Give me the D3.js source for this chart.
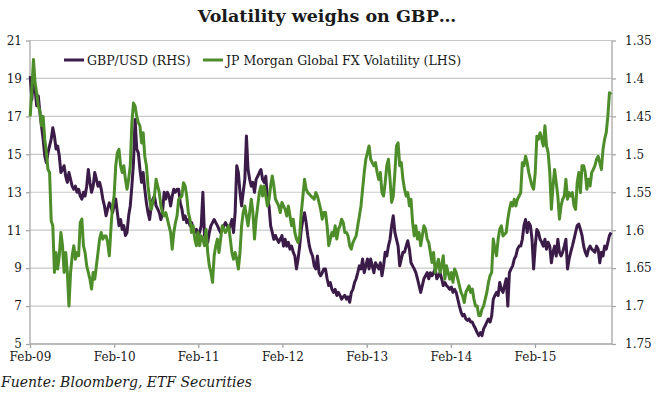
<!DOCTYPE html>
<html><head><meta charset="utf-8">
<script src="https://cdn.jsdelivr.net/npm/d3@7"></script>
<style>body{margin:0;background:#fff}svg{display:block}</style>
</head><body>
<svg id="c" width="659" height="399"></svg>
<script>
// JP Morgan Global FX Volatility (LHS), weekly readings from Feb-09
const volatility2009_10 = [
17.0,18.42,20.0,18.77,18.25,17.54,17.28,16.5,17.0,15.8,15.09,14.2,14.04,11.49,11.23,8.77,9.82,8.95,9.65,10.88,
10.18,8.77,9.82,8.77,7.0,8.77,9.65,10.18,9.47,9.82,9.65,11.4,11.58,10.18,9.82,9.12,8.77,8.42,7.9,8.77,
8.42,9.12,9.82,10.53,10.88,10.53,10.7,10.7,10.35,9.65,11.05,12.28,12.8,14.4,15.09,15.26,14.4,14.04,14.4,13.68,
13.16,13.68,14.4,16.67,17.7,17.54,17.0,16.67,16.5,15.6,16.14,14.9,14.4,13.33,12.63,12.1,12.46,12.8,13.68,13.33,
12.98,12.28,11.93,11.75,11.93,11.58,11.23,10.88,10.0,10.88,11.4,11.75
];
const volatility2011_12 = [
12.63,12.72,12.8,13.5,13.33,12.8,11.93,11.58,10.88,11.23,10.53,10.18,10.88,10.18,10.7,10.53,10.18,11.05,9.82,9.12,
8.77,8.25,9.65,10.18,10.53,9.82,10.53,11.23,11.05,10.88,11.05,11.23,10.53,9.82,9.47,9.82,9.47,8.95,9.82,11.23,
11.93,12.28,11.75,11.23,11.93,12.63,11.93,10.53,11.58,12.28,12.98,13.33,12.8,13.33,12.8,12.28,12.63,13.33,13.86,13.33,
12.63,12.46,12.28,11.93,12.46,12.28,12.1,11.75,12.28,11.75,11.23,11.58,10.88,10.53,10.35,10.7,11.93,12.8,13.68,13.16,
12.98,12.89,12.8,12.72,12.63,12.98,12.8,12.46,12.1,11.58,11.93
];
const volatility2013_14 = [
11.93,11.23,10.18,10.53,10.88,10.7,11.23,10.53,11.05,11.23,11.58,11.4,10.88,10.88,10.7,10.18,10.0,10.35,10.53,10.7,
11.23,11.75,12.28,13.16,14.04,14.74,15.09,15.44,14.74,14.56,14.4,14.56,14.04,13.68,14.04,12.98,12.8,13.5,14.4,14.74,
13.68,12.46,12.8,14.04,15.44,15.6,14.4,14.56,13.68,13.16,12.8,12.98,12.28,12.63,11.4,10.7,11.23,10.53,10.88,10.18,
10.7,11.23,11.05,10.53,10.35,9.82,9.3,9.82,8.77,9.12,9.47,8.77,9.12,9.65,8.42,9.12,8.77,8.42,8.77,8.25,
8.95,8.77,8.42,8.07,7.72,7.54,7.19,7.72,7.9,8.07,7.72
];
const volatility2014_15 = [
7.9,7.37,7.0,7.0,6.5,6.5,6.84,7.0,7.37,7.72,8.25,8.6,8.77,10.53,10.0,9.65,10.53,11.05,11.23,10.7,
10.79,10.88,11.58,12.1,12.46,12.28,12.63,12.28,12.63,12.8,12.98,14.56,14.4,14.9,14.56,14.04,13.68,13.33,13.16,14.04,
15.95,15.8,16.14,15.8,15.44,16.5,15.44,15.09,14.04,12.1,13.33,14.2,13.5,12.8,11.58,12.28,12.63,12.8,13.68,12.63,
12.98,12.8,12.98,12.28,12.1,13.5,14.04,12.98,14.4,14.4,14.04,13.16,13.68,13.33,14.04,14.2,14.4,14.74,14.9,14.56,
14.2,15.26,15.8,16.14,17.0,18.25,18.16
];
// GBP/USD (RHS, inverted axis), weekly
const gbpusd2009_10 = [
1.397,1.428,1.397,1.414,1.436,1.423,1.445,1.463,1.480,1.502,1.511,1.498,1.489,1.480,1.465,1.476,1.493,1.489,1.502,1.524,
1.520,1.515,1.529,1.537,1.524,1.533,1.542,1.546,1.542,1.550,1.546,1.555,1.559,1.550,1.555,1.542,1.520,1.537,1.550,1.542,
1.524,1.533,1.542,1.537,1.546,1.559,1.568,1.581,1.572,1.564,1.568,1.577,1.568,1.559,1.577,1.594,1.586,1.599,1.594,1.607,
1.603,1.581,1.568,1.542,1.511,1.454,1.493,1.498,1.520,1.537,1.524,1.546,1.564,1.577,1.586,1.568,1.559,1.555,1.568,1.572,
1.577,1.586,1.577,1.550,1.559,1.550,1.555,1.568,1.555,1.546,1.550,1.546
];
const gbpusd2011_12 = [
1.546,1.564,1.572,1.586,1.581,1.590,1.586,1.594,1.590,1.599,1.603,1.599,1.607,1.603,1.594,1.550,1.607,1.612,1.616,1.603,
1.594,1.590,1.586,1.590,1.594,1.599,1.603,1.599,1.594,1.590,1.594,1.599,1.594,1.586,1.603,1.577,1.515,1.524,1.550,1.568,
1.550,1.533,1.476,1.520,1.533,1.542,1.537,1.550,1.533,1.529,1.524,1.520,1.533,1.537,1.529,1.559,1.568,1.594,1.603,1.612,
1.607,1.612,1.616,1.612,1.607,1.621,1.612,1.621,1.616,1.625,1.621,1.629,1.634,1.651,1.638,1.621,1.599,1.586,1.577,1.590,
1.607,1.621,1.629,1.634,1.647,1.651,1.634,1.656,1.660,1.656,1.651
];
const gbpusd2013_14 = [
1.651,1.664,1.673,1.669,1.678,1.682,1.678,1.686,1.682,1.686,1.691,1.688,1.686,1.691,1.688,1.695,1.682,1.678,1.669,1.664,
1.656,1.647,1.651,1.638,1.656,1.647,1.638,1.651,1.638,1.647,1.656,1.643,1.647,1.651,1.643,1.660,1.647,1.629,1.634,1.621,
1.612,1.594,1.581,1.603,1.612,1.621,1.647,1.638,1.629,1.629,1.621,1.614,1.625,1.643,1.647,1.651,1.656,1.664,1.673,1.682,
1.673,1.664,1.660,1.656,1.664,1.656,1.660,1.656,1.651,1.664,1.660,1.656,1.664,1.673,1.669,1.673,1.675,1.678,1.675,1.682,
1.678,1.682,1.691,1.700,1.708,1.713,1.711,1.717,1.719,1.717,1.721
];
const gbpusd2014_15 = [
1.721,1.726,1.730,1.735,1.739,1.735,1.739,1.730,1.726,1.721,1.717,1.721,1.713,1.691,1.686,1.682,1.686,1.669,1.678,1.682,
1.673,1.664,1.700,1.656,1.651,1.647,1.638,1.634,1.625,1.621,1.621,1.612,1.594,1.586,1.603,1.590,1.594,1.612,1.651,1.621,
1.599,1.603,1.612,1.616,1.621,1.612,1.625,1.616,1.621,1.643,1.629,1.621,1.634,1.612,1.629,1.634,1.629,1.621,1.612,1.651,
1.638,1.629,1.621,1.612,1.603,1.594,1.592,1.599,1.607,1.621,1.629,1.634,1.625,1.621,1.625,1.627,1.629,1.621,1.625,1.643,
1.629,1.634,1.621,1.625,1.616,1.607,1.603
];
const volatility = [...volatility2009_10, ...volatility2011_12, ...volatility2013_14, ...volatility2014_15];
const gbpusd = [...gbpusd2009_10, ...gbpusd2011_12, ...gbpusd2013_14, ...gbpusd2014_15];

const leftTicks = [5,7,9,11,13,15,17,19,21];
const rightTicks = [1.35,1.4,1.45,1.5,1.55,1.6,1.65,1.7,1.75];
const xTickLabels = ["Feb-09","Feb-10","Feb-11","Feb-12","Feb-13","Feb-14","Feb-15"];

// weekly dates from 2 Feb 2009
const weekDate = i => new Date(2009, 1, 2 + 7 * i);
const xTickDates = xTickLabels.map((_, i) => new Date(2009 + i, 1, 1));

const svg = d3.select("#c");
const L = 30, R = 612, T = 40.5, B = 344;
const x = d3.scaleTime().domain([new Date(2009,1,1), new Date(2016,0,1)]).range([L, R]);
const yL = d3.scaleLinear().domain([5,21]).range([B, T]);
const yR = d3.scaleLinear().domain([1.35,1.75]).range([T, B]);

const serif = "'DejaVu Serif', Georgia, serif";
const textCol = "#1a1a1a";
const purple = "#3b1b48", green = "#4d8d2a";

// gridlines
svg.append("g").selectAll("line").data(leftTicks.slice(1)).join("line")
  .attr("x1", L).attr("x2", R).attr("y1", d => yL(d)).attr("y2", d => yL(d))
  .attr("stroke", "#c9c9c9").attr("stroke-width", 1.2);

// axes
const axL = svg.append("g").attr("transform", `translate(${L},0)`)
  .call(d3.axisLeft(yL).tickValues(leftTicks).tickSize(4).tickPadding(4).tickFormat(d3.format("d")));
const axR = svg.append("g").attr("transform", `translate(${R},0)`)
  .call(d3.axisRight(yR).tickValues(rightTicks).tickSize(4).tickPadding(9).tickFormat(d => String(+d.toFixed(2))));
const axB = svg.append("g").attr("transform", `translate(0,${B})`)
  .call(d3.axisBottom(x).tickValues(xTickDates).tickSize(4).tickPadding(4.5).tickFormat((d, i) => xTickLabels[i]));
[axL, axR, axB].forEach(a => {
  a.selectAll(".domain").attr("stroke", "#a6a6a6").attr("stroke-width", 1.3);
  a.selectAll(".tick line").attr("stroke", "#a6a6a6").attr("stroke-width", 1.3);
  a.selectAll("text").attr("font-family", serif).attr("font-size", 12).attr("fill", textCol);
});
axL.select(".domain").attr("d", `M0,${T}V${B}`);
axR.select(".domain").attr("d", `M0,${T}V${B}`);
axB.select(".domain").attr("d", `M${L},0H${R}`);

// lines
const lineG = d3.line().x((d, i) => x(weekDate(i))).y(d => yR(d));
const lineV = d3.line().x((d, i) => x(weekDate(i))).y(d => yL(d));
svg.append("path").datum(gbpusd).attr("d", lineG).attr("fill", "none")
  .attr("stroke", purple).attr("stroke-width", 3).attr("stroke-linejoin", "round");
svg.append("path").datum(volatility).attr("d", lineV).attr("fill", "none")
  .attr("stroke", green).attr("stroke-width", 3).attr("stroke-linejoin", "round");

// legend
const leg = [
  {label: "GBP/USD (RHS)", color: purple, x: 64},
  {label: "JP Morgan Global FX Volatility (LHS)", color: green, x: 203}
];
const lg = svg.append("g");
leg.forEach(d => {
  lg.append("line").attr("x1", d.x).attr("x2", d.x + 20).attr("y1", 60).attr("y2", 60)
    .attr("stroke", d.color).attr("stroke-width", 3);
  lg.append("text").attr("x", d.x + 23).attr("y", 64.5).text(d.label)
    .attr("font-family", serif).attr("font-size", 12.5).attr("fill", textCol);
});

// title
svg.append("text").attr("x", 327).attr("y", 22).attr("text-anchor", "middle")
  .attr("font-family", serif).attr("font-weight", "bold").attr("font-size", 17.5)
  .attr("fill", textCol).text("Volatility weighs on GBP…");

// source
svg.append("text").attr("x", 1).attr("y", 387)
  .attr("font-family", serif).attr("font-style", "italic").attr("font-size", 14)
  .attr("fill", textCol).text("Fuente: Bloomberg, ETF Securities");
</script>
</body></html>
